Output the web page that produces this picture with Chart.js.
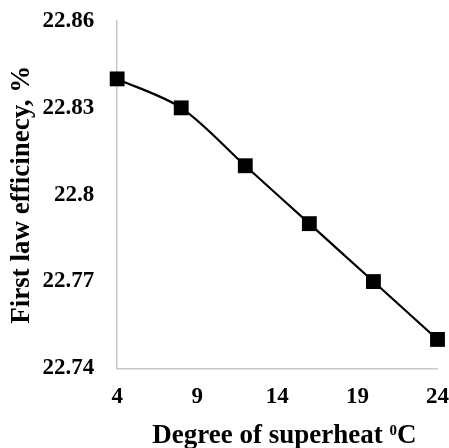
<!DOCTYPE html>
<html>
<head>
<meta charset="utf-8">
<script src="https://cdn.jsdelivr.net/npm/chart.js@4"></script>
<style>
  body { margin: 0; background: #fff; }
</style>
</head>
<body>
<canvas id="myChart" width="449" height="448"></canvas>
<script>
var superheat = [4, 8, 12, 16, 20, 24];
var efficiency = [22.84, 22.83, 22.81, 22.79, 22.77, 22.75];
var xTicks = [4, 9, 14, 19, 24];
var yTicks = [22.74, 22.77, 22.8, 22.83, 22.86];
var xTitle = ['Degree of superheat ', '0', 'C'];

var font = 'Liberation Serif';

// x axis title, drawn by hand so the "0" can be a real superscript
var xTitlePlugin = {
  id: 'xTitle',
  afterDraw: function (chart) {
    var ctx = chart.ctx;
    var area = chart.chartArea;
    var big = 'bold 27px "' + font + '"';
    var small = 'bold 15px "' + font + '"';
    ctx.save();
    ctx.fillStyle = '#000';
    ctx.textBaseline = 'alphabetic';
    ctx.font = big;
    var w1 = ctx.measureText(xTitle[0]).width;
    var w3 = ctx.measureText(xTitle[2]).width;
    ctx.font = small;
    var w2 = ctx.measureText(xTitle[1]).width;
    var total = w1 + w2 + w3;
    var x = (area.left + area.right) / 2 + 7 - total / 2;
    var y = area.bottom + 75;
    ctx.font = big;
    ctx.fillText(xTitle[0], x, y);
    ctx.font = small;
    ctx.fillText(xTitle[1], x + w1, y - 8);
    ctx.font = big;
    ctx.fillText(xTitle[2], x + w1 + w2, y);
    ctx.restore();
  }
};

function makeGraph(xs, ys) {
  var ctx = document.getElementById('myChart').getContext('2d');
  var points = xs.map(function (x, i) { return { x: x, y: ys[i] }; });
  var chart = new Chart(ctx, {
    type: 'line',
    data: {
      datasets: [{
        data: points,
        borderColor: '#000',
        borderWidth: 2.2,
        tension: 0.3,
        pointStyle: 'rect',
        pointRadius: 10.5,
        pointBackgroundColor: '#000',
        pointBorderColor: '#000',
        pointBorderWidth: 0,
        clip: false
      }]
    },
    options: {
      responsive: false,
      animation: false,
      layout: { autoPadding: false, padding: { left: 4, right: 0, top: 21, bottom: 37 } },
      plugins: { legend: { display: false }, tooltip: { enabled: false } },
      scales: {
        x: {
          type: 'linear',
          min: 4,
          max: 24,
          afterBuildTicks: function (axis) {
            axis.ticks = xTicks.map(function (v) { return { value: v }; });
          },
          // tick marks are hidden, their length only makes the gap to the labels
          grid: { display: false, drawTicks: true, tickLength: 15 },
          border: { display: true, color: '#c8c8c8', width: 1.5 },
          ticks: {
            color: '#000',
            padding: 0,
            maxRotation: 0,
            font: { family: font, size: 23, weight: 'bold' }
          }
        },
        y: {
          min: 22.74,
          max: 22.86,
          afterBuildTicks: function (axis) {
            axis.ticks = yTicks.map(function (v) { return { value: v }; });
          },
          grid: { display: false, drawTicks: true, tickLength: 23 },
          border: { display: true, color: '#c8c8c8', width: 1.5 },
          ticks: {
            color: '#000',
            padding: 0,
            font: { family: font, size: 23, weight: 'bold' },
            callback: function (v) { return String(parseFloat(Number(v).toFixed(2))); }
          },
          title: {
            display: true,
            text: 'First law efficinecy, %',
            color: '#000',
            padding: { top: 2, bottom: 4 },
            font: { family: font, size: 27, weight: 'bold' }
          }
        }
      }
    },
    plugins: [xTitlePlugin]
  });
  return chart;
}

makeGraph(superheat, efficiency);
</script>
</body>
</html>
